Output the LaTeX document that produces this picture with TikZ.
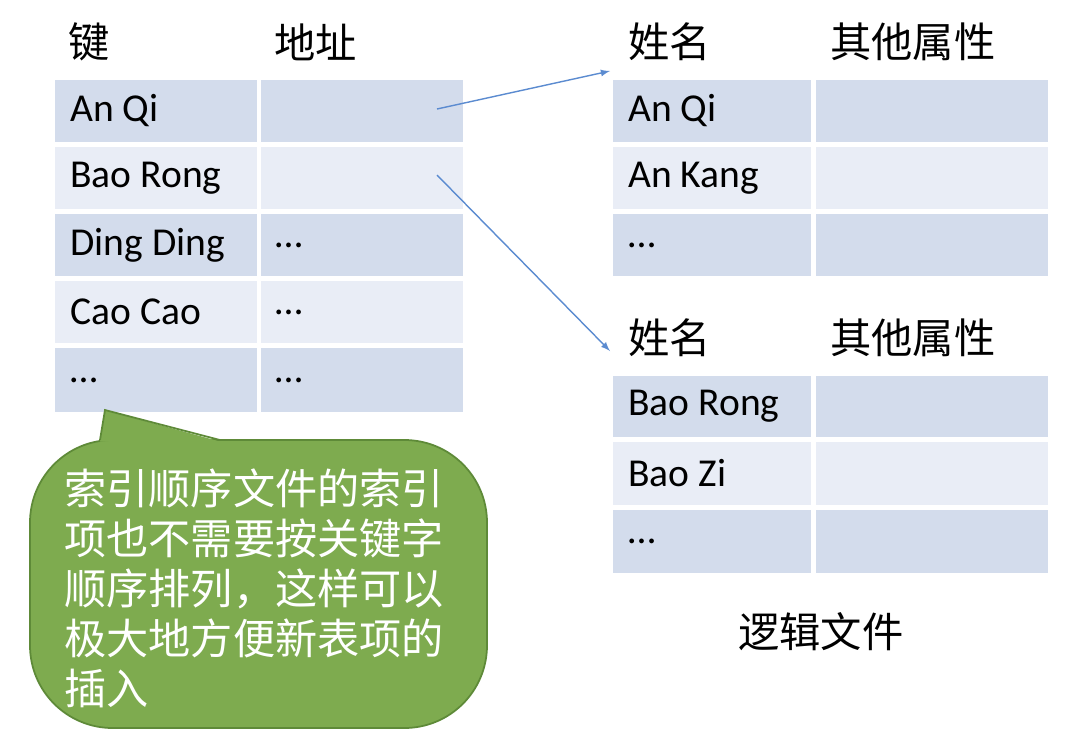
\documentclass[tikz,border=0pt]{standalone}
\usepackage{fontspec}
\setmainfont{Carlito}
\newfontfamily\cjk{Noto Sans CJK SC}
\usetikzlibrary{positioning,shapes.callouts}
\definecolor{celldark}{RGB}{211,220,236}
\definecolor{celllight}{RGB}{233,237,246}
\definecolor{notegreen}{RGB}{126,171,79}
\definecolor{noteedge}{RGB}{94,138,56}
\definecolor{linkblue}{RGB}{91,139,208}
\tikzset{
  label/.style={anchor=west, inner sep=0pt, font=\fontsize{22.5}{22.5}\selectfont},
  head/.style={anchor=west, inner sep=0pt, font=\cjk\fontsize{23.5}{23.5}\selectfont},
  link/.style={linkblue, thick, -latex}
}
\begin{document}
\begin{tikzpicture}[x=0.02cm, y=-0.02cm]
\useasboundingbox (0,0) rectangle (1089,745);
% index table
\node[head] (keyh) at (68,42) {\cjk 键};
\node[head] (addrh) at (274,42) {\cjk 地址};
\foreach \i/\top/\bot/\col/\ka/\kb in {1/80/142/celldark/An Qi/,2/147/209/celllight/Bao Rong/,3/214/276/celldark/Ding Ding/\dots,4/281/343/celllight/Cao Cao/\dots,5/348/412/celldark/\dots/\dots}{
  \fill[\col] (55,\top) rectangle (257,\bot);
  \fill[\col] (261,\top) rectangle (463,\bot);
  \node[label] (k\i) at (70,{(\top+\bot)/2}) {\ka};
  \node[label] (a\i) at (275,{(\top+\bot)/2}) {\kb};
}
% logical file, first block
\node[head] (nameA) at (628,42) {\cjk 姓名};
\node[head] (attrA) at (830,42) {\cjk 其他属性};
\foreach \i/\top/\bot/\col/\nm in {1/80/142/celldark/An Qi,2/147/209/celllight/An Kang,3/214/276/celldark/\dots}{
  \fill[\col] (613,\top) rectangle (811,\bot);
  \fill[\col] (816,\top) rectangle (1048,\bot);
  \node[label] (p\i) at (628,{(\top+\bot)/2}) {\nm};
}
% logical file, second block
\node[head] (nameB) at (628,338) {\cjk 姓名};
\node[head] (attrB) at (830,338) {\cjk 其他属性};
\foreach \i/\top/\bot/\col/\nm in {1/376/437/celldark/Bao Rong,2/442/505/celllight/Bao Zi,3/510/573/celldark/\dots}{
  \fill[\col] (613,\top) rectangle (811,\bot);
  \fill[\col] (816,\top) rectangle (1048,\bot);
  \node[label] (q\i) at (628,{(\top+\bot)/2}) {\nm};
}
\node[head] (logic) at (738,632) {\cjk 逻辑文件};
% pointers
\coordinate (fromA) at (437,109);
\coordinate (fromB) at (437,175);
\coordinate (toA) at (610,71);
\coordinate (toB) at (610,351);
\draw[link] (fromA) -- (toA);
\draw[link] (fromB) -- (toB);
% note
\draw[noteedge, fill=notegreen, line width=1pt, rounded corners=47] (30,440) rectangle (487,728);
\fill[notegreen] (100,441.5) -- (105,410) -- (220,441.5) -- cycle;
\draw[noteedge, line width=1pt] (100,440) -- (105,410) -- (220,440);
\node[anchor=north west, inner sep=0pt, align=left, text=white,
  font=\cjk\fontsize{24}{28.5}\selectfont] (note) at (64,468)
  {索引顺序文件的索引\\项也不需要按关键字\\顺序排列，这样可以\\极大地方便新表项的\\插入};
\end{tikzpicture}
\end{document}
